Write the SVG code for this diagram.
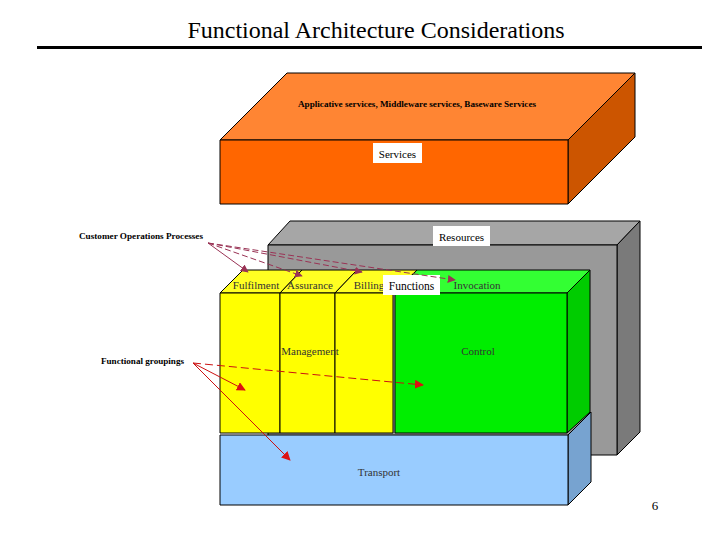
<svg xmlns="http://www.w3.org/2000/svg" width="720" height="540" viewBox="0 0 720 540">
<defs>
<style>
.edge{stroke:#000;stroke-width:1;stroke-linejoin:round}
.t{font-family:"Liberation Serif","Times New Roman",serif;fill:#000}
.lbl{font-family:"Liberation Serif","Times New Roman",serif;font-size:11px;fill:#333;text-anchor:middle}
.bold{font-family:"Liberation Serif","Times New Roman",serif;font-size:9px;font-weight:bold;fill:#000}
.box{fill:#fff;stroke:none}
.cop{stroke:#993355;stroke-width:1;fill:none}
.fg{stroke:#CC1111;stroke-width:1;fill:none}
</style>
<marker id="ap" viewBox="0 0 10 10" refX="9" refY="5" markerWidth="8" markerHeight="8" orient="auto" markerUnits="userSpaceOnUse"><path d="M0,0 L10,5 L0,10 z" fill="#993355"/></marker>
<marker id="ar" viewBox="0 0 10 10" refX="9" refY="5" markerWidth="9" markerHeight="9" orient="auto" markerUnits="userSpaceOnUse"><path d="M0,0 L10,5 L0,10 z" fill="#DD1111"/></marker>
</defs>
<rect width="720" height="540" fill="#fff"/>
<g id="title">
<text class="t" x="376" y="38" font-size="24" text-anchor="middle">Functional Architecture Considerations</text>
<line x1="37" y1="47.5" x2="702" y2="47.5" stroke="#000" stroke-width="3"/>
</g>
<g id="services">
<polygon class="edge" points="220,140 287,73 635,73 568,140" fill="#FF8533"/>
<polygon class="edge" points="568,140 635,73 635,137 568,204" fill="#CC5500"/>
<rect class="edge" x="220" y="140" width="348" height="64" fill="#FF6600"/>
<text class="bold" x="417" y="107" text-anchor="middle" textLength="238" lengthAdjust="spacingAndGlyphs">Applicative services, Middleware services, Baseware Services</text>
<rect class="box" x="373" y="143" width="49" height="20"/>
<text class="t" x="397.5" y="158" font-size="11" text-anchor="middle" fill="#222">Services</text>
</g>
<g id="resources">
<polygon class="edge" points="268,245 290,221 640,221 617,245" fill="#A6A6A6"/>
<polygon class="edge" points="617,245 640,221 640,432 617,455" fill="#7A7A7A"/>
<rect class="edge" x="268" y="245" width="349" height="210" fill="#999999"/>
<rect class="box" x="433" y="226" width="57" height="20"/>
<text class="t" x="461.5" y="241" font-size="11" text-anchor="middle" fill="#222">Resources</text>
</g>
<g id="transport">
<polygon class="edge" points="568,435 591,412 591,482 568,505" fill="#77A3D0"/>
<rect class="edge" x="220" y="435" width="348" height="70" fill="#99CCFF"/>
<text class="lbl" x="379" y="476">Transport</text>
</g>
<g id="control">
<polygon class="edge" points="395,293 417,270 590,270 567,293" fill="#33FF33"/>
<polygon class="edge" points="567,293 590,270 590,412 567,433" fill="#00CC00"/>
<rect class="edge" x="395" y="293" width="172" height="140" fill="#00EE00"/>
<text class="lbl" x="477" y="289" font-size="10">Invocation</text>
<text class="lbl" x="478" y="355">Control</text>
</g>
<g id="management">
<polygon class="edge" points="220,293 243,270 302,270 280,293" fill="#FFFF22"/>
<polygon class="edge" points="280,293 302,270 357,270 335,293" fill="#FFFF22"/>
<polygon class="edge" points="335,293 357,270 417,270 393,293" fill="#FFFF22"/>
<rect class="edge" x="220" y="293" width="60" height="140" fill="#FFFF00"/>
<rect class="edge" x="280" y="293" width="55" height="140" fill="#FFFF00" stroke-width="2"/>
<rect class="edge" x="335" y="293" width="58" height="140" fill="#FFFF00"/>
<text class="lbl" x="256" y="289" font-size="10">Fulfilment</text>
<text class="lbl" x="310" y="289" font-size="10">Assurance</text>
<text class="lbl" x="369" y="289" font-size="10">Billing</text>
<text class="lbl" x="310" y="355">Management</text>
</g>
<g id="functions">
<rect class="box" x="383" y="275" width="57" height="20"/>
<text class="t" x="411.5" y="290" font-size="11.5" text-anchor="middle" fill="#111">Functions</text>
</g>
<g id="customer-ops">
<text class="bold" x="79" y="239" textLength="124" lengthAdjust="spacingAndGlyphs">Customer Operations Processes</text>
</g>
<g id="functional-groupings">
<text class="bold" x="101" y="364" textLength="83" lengthAdjust="spacingAndGlyphs">Functional groupings</text>
</g>
<g id="connectors">
<line class="cop" x1="208" y1="243" x2="248" y2="272" marker-end="url(#ap)"/>
<line class="cop" x1="208" y1="243" x2="302" y2="276" marker-end="url(#ap)" stroke-dasharray="6,3"/>
<line class="cop" x1="208" y1="243" x2="362" y2="272" marker-end="url(#ap)" stroke-dasharray="6,3"/>
<line class="cop" x1="208" y1="243" x2="455" y2="280" marker-end="url(#ap)" stroke-dasharray="6,3"/>
<line class="fg" x1="193" y1="363" x2="245" y2="390" marker-end="url(#ar)"/>
<line class="fg" x1="193" y1="363" x2="423" y2="385" marker-end="url(#ar)" stroke-dasharray="8,4"/>
<line class="fg" x1="193" y1="363" x2="290" y2="460" marker-end="url(#ar)"/>
</g>
<g id="page-number">
<text class="t" x="655" y="510" font-size="13" text-anchor="middle">6</text>
</g>
</svg>
